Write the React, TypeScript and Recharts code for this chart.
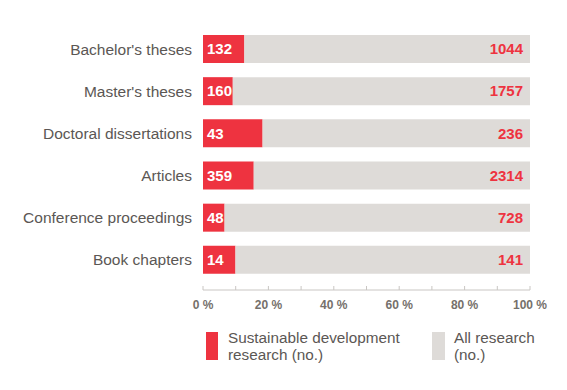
import { BarChart, Bar, XAxis, YAxis, LabelList } from 'recharts';

const categories = [
  "Bachelor's theses",
  "Master's theses",
  'Doctoral dissertations',
  'Articles',
  'Conference proceedings',
  'Book chapters',
];
const sdResearch = [132, 160, 43, 359, 48, 14];
const allResearch = [1044, 1757, 236, 2314, 728, 141];
const pctTicks = [0, 10, 20, 30, 40, 50, 60, 70, 80, 90, 100];

const RED = '#ee3340';
const GREY = '#dedbd8';
const TEXT = '#5b5754';
const FONT = '"Liberation Sans", Arial, sans-serif';

const data = categories.map((name, i) => {
  const share = (sdResearch[i] / allResearch[i]) * 100;
  return { name, sd: sdResearch[i], all: allResearch[i], share, rest: 100 - share };
});

const PctTick = ({ x, y, payload }: any) => (
  <g>
    <line x1={x} x2={x} y1={y - 4} y2={y} stroke="#c9c6c3" />
    {payload.value % 20 === 0 && (
      <text x={x} y={y + 19} textAnchor="middle" fontSize={12} fontWeight="bold" fill="#75706b" fontFamily={FONT}>
        {payload.value} %
      </text>
    )}
  </g>
);

export default function App() {
  return (
    <div style={{ position: 'absolute', left: 0, top: 0, width: 567, height: 390, background: '#fff', fontFamily: FONT }}>
      <BarChart
        width={567}
        height={390}
        data={data}
        layout="vertical"
        margin={{ top: 28, right: 37, bottom: 70, left: 0 }}
        barSize={28}
      >
        <XAxis
          type="number"
          domain={[0, 100]}
          ticks={pctTicks}
          axisLine={{ stroke: '#c9c6c3' }}
          tickLine={false}
          tickSize={0}
          tickMargin={0}
          tick={<PctTick />}
          height={30}
          interval={0}
        />
        <YAxis
          type="category"
          dataKey="name"
          width={203}
          axisLine={false}
          tickLine={false}
          tickSize={0}
          tickMargin={11}
          padding={{ top: 0, bottom: 9 }}
          tick={{ fontSize: 15.5, fill: TEXT, fontFamily: FONT }}
        />
        <Bar dataKey="share" stackId="a" fill={RED} isAnimationActive={false}>
          <LabelList dataKey="sd" position="insideLeft" offset={4} fill="#fff" fontSize={15} fontWeight="bold" fontFamily={FONT} />
        </Bar>
        <Bar dataKey="rest" stackId="a" fill={GREY} isAnimationActive={false}>
          <LabelList dataKey="all" position="insideRight" offset={7} fill={RED} fontSize={15} fontWeight="bold" fontFamily={FONT} />
        </Bar>
      </BarChart>
      <div style={{ position: 'absolute', left: 206, top: 332, display: 'flex', color: TEXT, fontSize: 15.3, lineHeight: '17px' }}>
        <div style={{ display: 'flex', width: 226 }}>
          <div style={{ width: 12, height: 28, background: RED, marginRight: 10 }} />
          <div style={{ marginTop: -3 }}>Sustainable development<br />research (no.)</div>
        </div>
        <div style={{ display: 'flex' }}>
          <div style={{ width: 13, height: 28, background: GREY, marginRight: 9 }} />
          <div style={{ marginTop: -3 }}>All research<br />(no.)</div>
        </div>
      </div>
    </div>
  );
}
